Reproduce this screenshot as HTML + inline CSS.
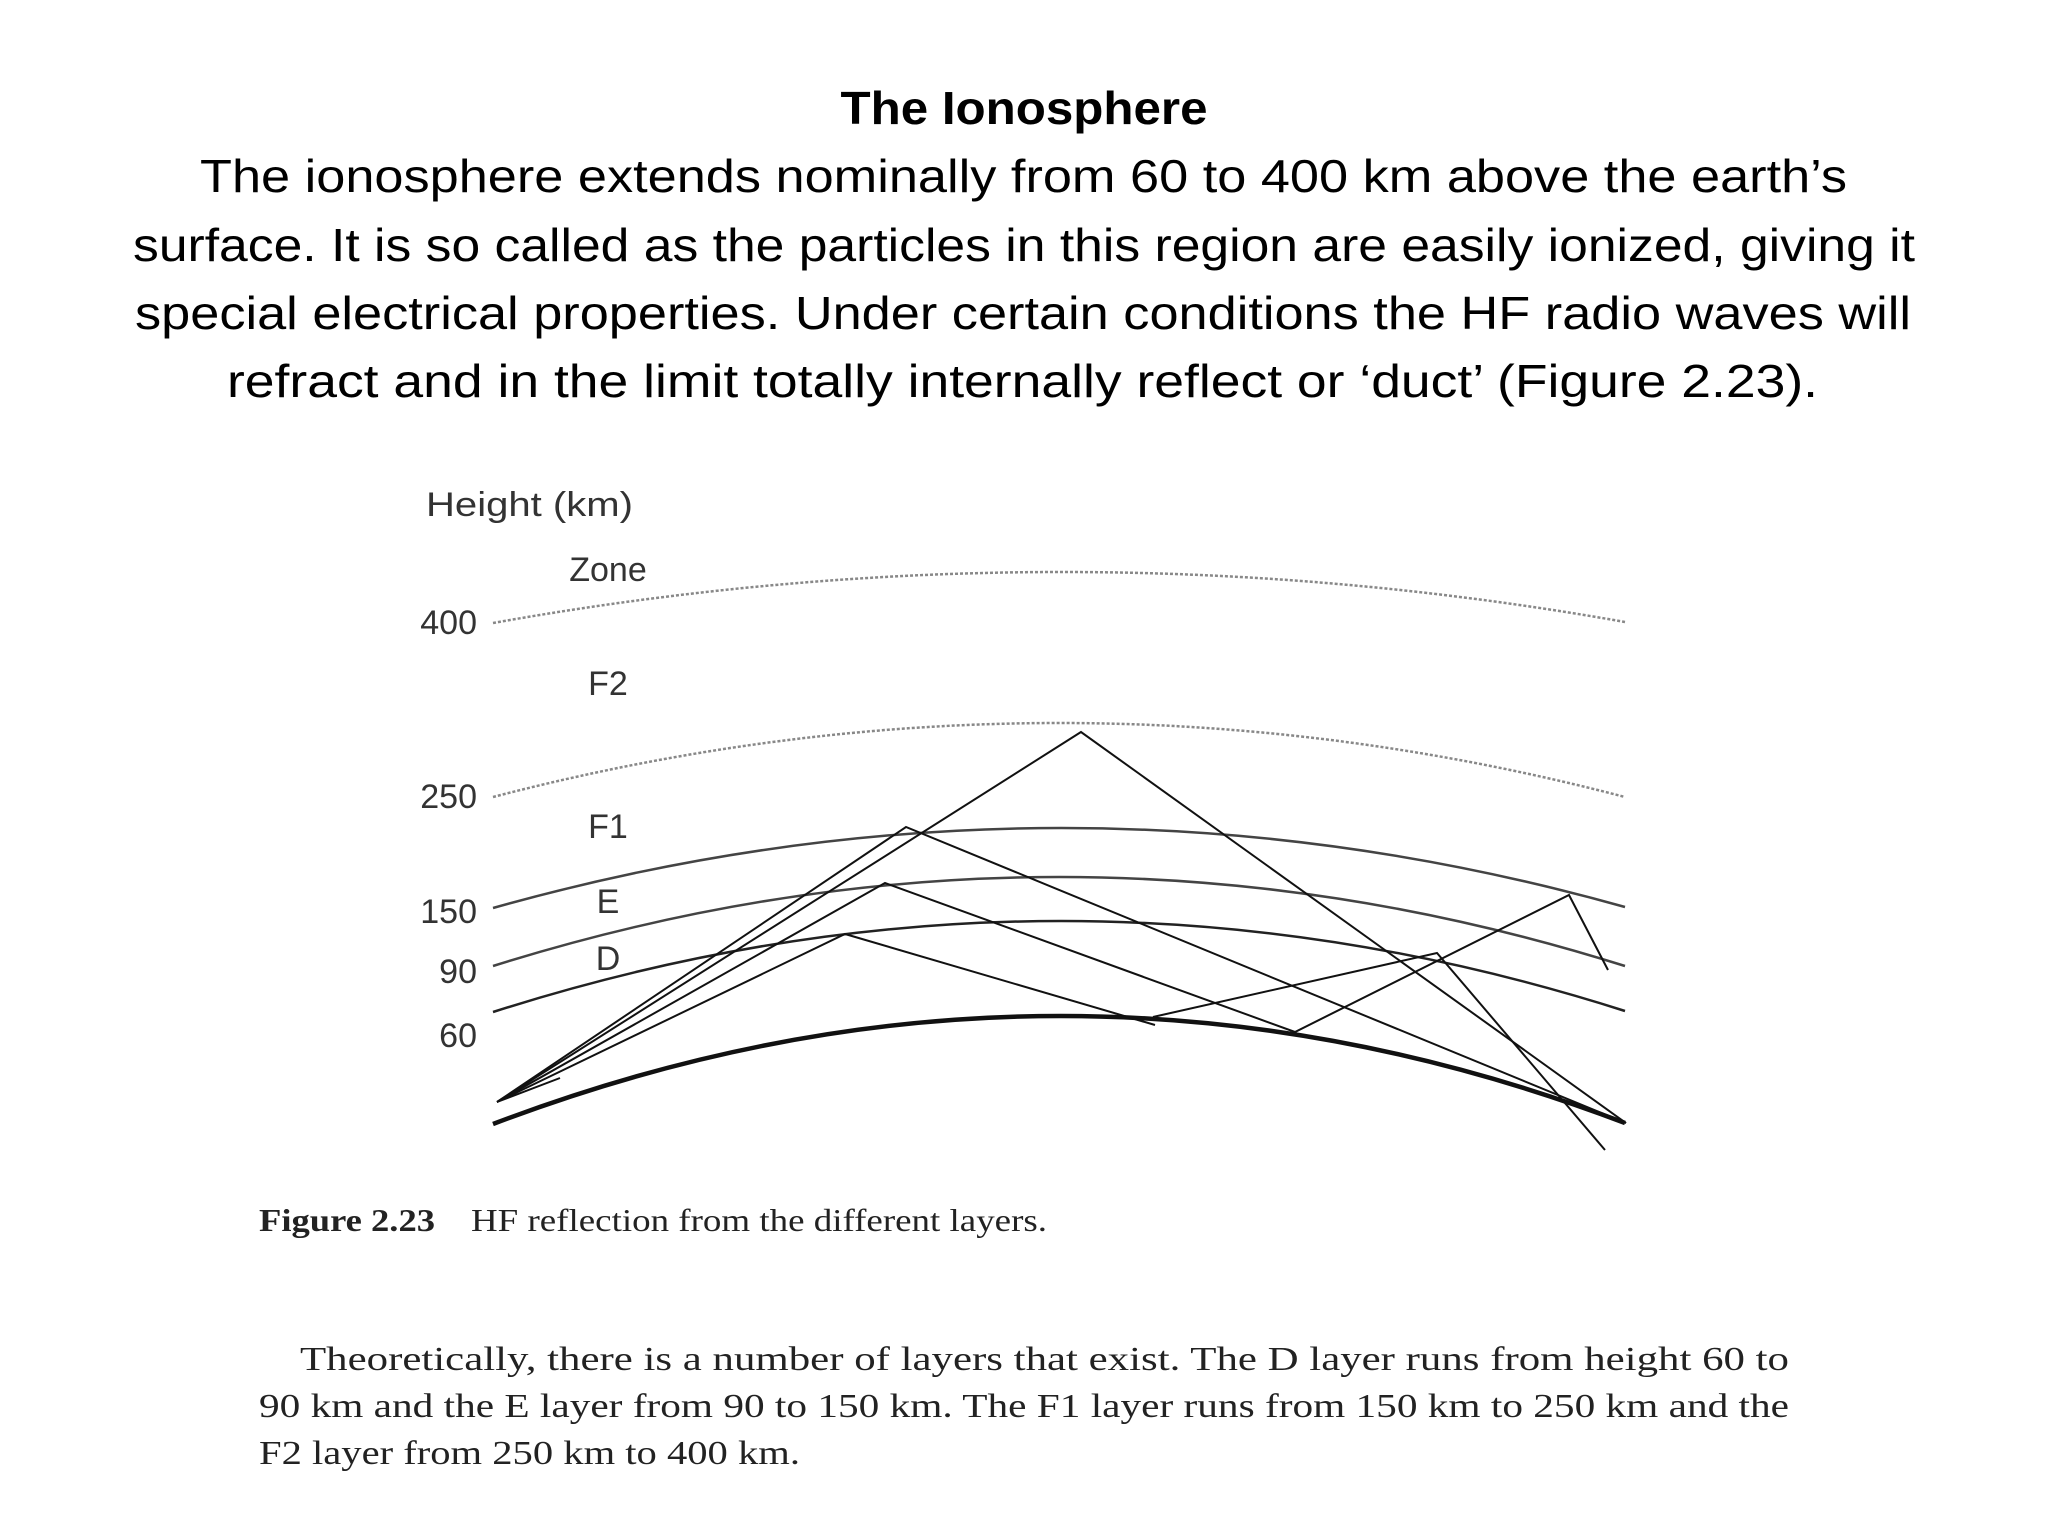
<!DOCTYPE html>
<html><head><meta charset="utf-8"><style>
html,body{margin:0;padding:0;background:#fff;}
svg{display:block;}
</style></head><body>
<svg id="s" width="2048" height="1536" viewBox="0 0 2048 1536" xmlns="http://www.w3.org/2000/svg">
<g font-family="Liberation Sans, sans-serif" fill="#000">
<text x="1024" y="124" text-anchor="middle" font-size="46" font-weight="bold" textLength="367" lengthAdjust="spacingAndGlyphs">The Ionosphere</text>
<text x="200" y="192" font-size="46" textLength="1647" lengthAdjust="spacingAndGlyphs">The ionosphere extends nominally from 60 to 400 km above the earth’s</text>
<text x="133" y="261" font-size="46" textLength="1782" lengthAdjust="spacingAndGlyphs">surface. It is so called as the particles in this region are easily ionized, giving it</text>
<text x="135" y="329" font-size="46" textLength="1776" lengthAdjust="spacingAndGlyphs">special electrical properties. Under certain conditions the HF radio waves will</text>
<text x="227" y="397" font-size="46" textLength="1591" lengthAdjust="spacingAndGlyphs">refract and in the limit totally internally reflect or ‘duct’ (Figure 2.23).</text>
</g>
<g id="diagram"></g>
<g font-family="Liberation Serif, serif" fill="#222" font-size="32">
<text x="259" y="1231" font-weight="bold" textLength="176" lengthAdjust="spacingAndGlyphs">Figure 2.23</text>
<text x="471" y="1231" textLength="576" lengthAdjust="spacingAndGlyphs">HF reflection from the different layers.</text>
<text x="300" y="1370" font-size="34" textLength="1489" lengthAdjust="spacingAndGlyphs">Theoretically, there is a number of layers that exist. The D layer runs from height 60 to</text>
<text x="259" y="1417" font-size="34" textLength="1530" lengthAdjust="spacingAndGlyphs">90 km and the E layer from 90 to 150 km. The F1 layer runs from 150 km to 250 km and the</text>
<text x="259" y="1464" font-size="34" textLength="541" lengthAdjust="spacingAndGlyphs">F2 layer from 250 km to 400 km.</text>
</g>
</svg>
<script>
// layer boundaries (heights in km) and their drawn arcs
const layerHeights = [400, 250, 150, 90, 60, 0];
const layerStartY = [623, 797, 908, 966, 1012, 1124];
const layerPeakY = [572, 723, 828, 877, 921, 1016];
const layerEndY = [622, 797, 907, 966, 1011, 1123];
const layerStyle = ['dot', 'dot', 'grey', 'grey', 'solid', 'earth'];
const tickLabels = ['400', '250', '150', '90', '60'];
const tickLabelY = [634, 808, 923, 983, 1047];
const zoneLabels = ['Zone', 'F2', 'F1', 'E', 'D'];
const zoneLabelY = [581, 695, 838, 913, 970];
// ray paths (hop points)
const rayF2 = [[497,1102],[1081,732],[1626,1123]];
const rayF1 = [[497,1102],[906,827],[1626,1123]];
const rayE = [[497,1102],[885,883],[1295,1032],[1569,895],[1608,970]];
const rayD = [[497,1102],[845,934],[1155,1025]];
const rayD2 = [[1153,1017],[1437,953],[1605,1150]];
const rayGround = [[497,1102],[560,1078]];
const rays = [rayF2, rayF1, rayE, rayD, rayD2, rayGround];

const NS = 'http://www.w3.org/2000/svg';
const g = document.getElementById('diagram');
const x0 = 493, x1 = 1625, xm = 1060;
layerHeights.forEach((h, i) => {
  const y0 = layerStartY[i], y2 = layerEndY[i], pk = layerPeakY[i];
  const c = 2 * pk - (y0 + y2) / 2;
  const p = document.createElementNS(NS, 'path');
  p.setAttribute('d', `M${x0},${y0} Q${xm},${c} ${x1},${y2}`);
  p.setAttribute('fill', 'none');
  const st = layerStyle[i];
  if (st === 'dot') { p.setAttribute('stroke', '#888'); p.setAttribute('stroke-width', '2.5'); p.setAttribute('stroke-dasharray', '3 2'); }
  else if (st === 'grey') { p.setAttribute('stroke', '#444'); p.setAttribute('stroke-width', '2.5'); }
  else if (st === 'solid') { p.setAttribute('stroke', '#222'); p.setAttribute('stroke-width', '2.5'); }
  else { p.setAttribute('stroke', '#111'); p.setAttribute('stroke-width', '4.5'); }
  
  
  g.appendChild(p);
});
rays.forEach((r, i) => {
  const pl = document.createElementNS(NS, 'polyline');
  pl.setAttribute('points', r.map(q => q.join(',')).join(' '));
  pl.setAttribute('fill', 'none');
  pl.setAttribute('stroke', '#111');
  pl.setAttribute('stroke-width', '2');
  
  
  g.appendChild(pl);
});
function addText(str, x, y, anchor, name, len) {
  const t = document.createElementNS(NS, 'text');
  t.textContent = str;
  t.setAttribute('x', x); t.setAttribute('y', y);
  t.setAttribute('text-anchor', anchor);
  t.setAttribute('font-family', 'Liberation Sans, sans-serif');
  t.setAttribute('font-size', '34');
  t.setAttribute('fill', '#333');
  if (len) { t.setAttribute('textLength', len); t.setAttribute('lengthAdjust', 'spacingAndGlyphs'); }
  
  
  g.appendChild(t);
}
addText('Height  (km)', 426, 516, 'start', 'y-axis-title', 207);
tickLabels.forEach((l, i) => addText(l, 477, tickLabelY[i], 'end', 'tick-label-' + l));
zoneLabels.forEach((l, i) => addText(l, 608, zoneLabelY[i], 'middle', 'zone-label-' + l.toLowerCase()));
</script>
</body></html>
